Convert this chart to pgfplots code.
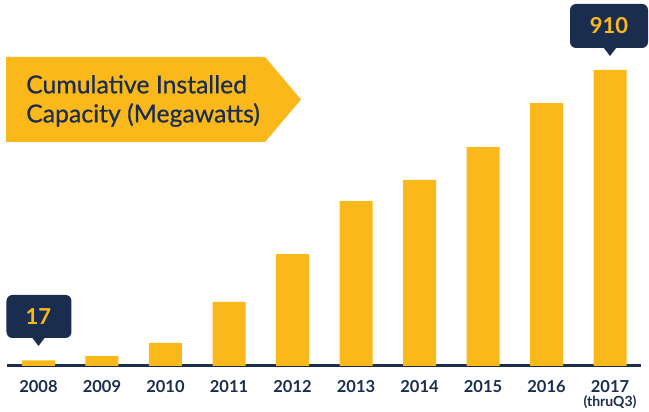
\documentclass[border=0pt]{standalone}
\usepackage{pgfplots}
\pgfplotsset{compat=1.18}
\usepackage{fontspec}
\setmainfont{Lato}
\newfontfamily\titlefont[FakeBold=0.5]{Lato}
\definecolor{barY}{HTML}{FBB81A}
\definecolor{navy}{HTML}{1B2D4F}
\begin{document}
\begin{tikzpicture}[x=1pt,y=1pt]
\begin{axis}[
  scale only axis, width=634pt, height=296pt,
  xmin=-0.496, xmax=9.488, ymin=0, ymax=910,
  ybar, bar width=33pt,
  axis x line*=bottom, hide y axis,
  x axis line style={line width=3pt, draw=navy, -},
  xtick=data, major tick length=0pt,
  xticklabels={2008,2009,2010,2011,2012,2013,2014,2015,2016,{2017\\[-3pt]{\fontsize{14}{15}\selectfont(thruQ3)}}},
  xticklabel style={font=\bfseries\fontsize{16.5}{17}\selectfont, text=navy, align=center, inner sep=0pt, anchor=north, yshift=-14.5pt},
  clip=false,
]
\addplot[fill=barY, draw=none] coordinates {
 (0,17) (1,30) (2,71) (3,197) (4,344) (5,507) (6,572) (7,673) (8,808) (9,910)};
\coordinate (O) at (axis cs:-0.496,0);
\coordinate (t0) at (axis cs:0,17);
\coordinate (t9) at (axis cs:9,910);
\end{axis}
\pgfresetboundingbox
\begin{scope}[shift={(O)}]
\begin{scope}[shift={(-7,-46)}]
\path[use as bounding box] (0,0) rectangle (649,412);
% title arrow
\fill[barY] (6,270) -- (265,270) -- (301,312.5) -- (265,355) -- (6,355) -- cycle;
\node[anchor=west, inner sep=0, text=navy, font=\titlefont\fontsize{24.8}{29}\selectfont, align=left] at (26,311) {Cumulative Installed\\Capacity (Megawatts)};
\end{scope}
\end{scope}
\begin{scope}[shift={(t0)}]
\fill[navy, rounded corners=6pt] (-32,22.5) rectangle (33,65.5);
\fill[navy] (-6.5,23) -- (0,14.5) -- (6.5,23) -- cycle;
\node[text=barY, inner sep=0, font=\bfseries\fontsize{22}{22}\selectfont] at (0,44) {17};
\end{scope}
\begin{scope}[shift={(t9)}]
\fill[navy, rounded corners=6pt] (-40,22) rectangle (38,66);
\fill[navy] (-6.5,22.5) -- (0,14) -- (6.5,22.5) -- cycle;
\node[text=barY, inner sep=0, font=\bfseries\fontsize{22}{22}\selectfont] at (-1,44) {910};
\end{scope}
\end{tikzpicture}
\end{document}
